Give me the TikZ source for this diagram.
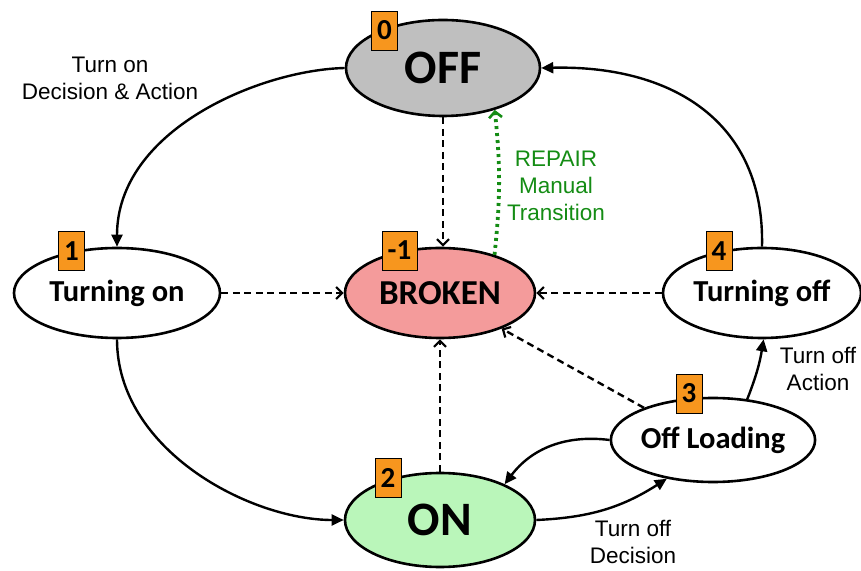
\documentclass[tikz,border=0pt]{standalone}
\usepackage{fontspec}
\setmainfont{Liberation Sans}
\newfontfamily\calib{Carlito}
\usetikzlibrary{shapes.geometric,arrows.meta}
\definecolor{offgray}{RGB}{191,191,191}
\definecolor{brokenpink}{RGB}{244,155,155}
\definecolor{ongreen}{RGB}{186,246,186}
\definecolor{badgeorange}{RGB}{247,150,30}
\definecolor{repairgreen}{RGB}{20,140,20}
\tikzset{
  state/.style={ellipse, draw=black, line width=2.6pt, inner sep=0pt, font=\calib\bfseries},
  badge/.style={rectangle, draw=black, line width=0.6pt, fill=badgeorange, inner sep=0pt,
    minimum width=26pt, minimum height=39pt, font=\calib\bfseries\fontsize{29}{29}\selectfont},
  lbl/.style={align=center, font=\fontsize{22.5}{27}\selectfont, inner sep=0pt},
  trans/.style={line width=2.4pt, -{Triangle[length=12pt,width=11pt]}},
  fail/.style={line width=2.4pt, dash pattern=on 7pt off 4.5pt, -{Straight Barb[length=6pt,width=12pt,line width=2.2pt]}},
  repair/.style={line width=3.8pt, repairgreen, dash pattern=on 3pt off 4pt, -{Straight Barb[length=6pt,width=13pt,line width=2.6pt]}}
}
\begin{document}
\begin{tikzpicture}[x=1pt,y=1pt]
\useasboundingbox (0,0) rectangle (861,570);
% states
\node[state, fill=offgray, minimum width=194pt, minimum height=96pt] (off) at (443,502) {\fontsize{48}{48}\selectfont OFF};
\node[state, fill=brokenpink, minimum width=190pt, minimum height=90pt] (broken) at (440,277) {\fontsize{35}{35}\selectfont BROKEN};
\node[state, fill=white, minimum width=206pt, minimum height=90pt] (ton) at (117,277) {\fontsize{30.5}{30}\selectfont Turning on};
\node[state, fill=white, minimum width=198pt, minimum height=90pt] (toff) at (762,277) {\fontsize{30.5}{30}\selectfont Turning off};
\node[state, fill=white, minimum width=194pt, minimum height=84pt] (ol) at (713,130) {\fontsize{30.5}{30}\selectfont Off Loading};
\node[state, fill=ongreen, minimum width=190pt, minimum height=94pt] (on) at (440,50) {\fontsize{48}{48}\selectfont ON};
% badges
\node[badge] (b0) at (384.5,539.5) {0};
\node[badge, minimum width=35pt] (bm1) at (399.5,319.5) {-1};
\node[badge] (b1) at (71.5,319) {1};
\node[badge] (b4) at (719,319) {4};
\node[badge] (b3) at (689,176.5) {3};
\node[badge] (b2) at (388,92) {2};
% labels
\node[lbl] (l1) at (110,491.5) {Turn on\\Decision \& Action};
\node[lbl, text=repairgreen] (lr) at (556,384.5) {REPAIR\\Manual\\Transition};
\node[lbl] (l4) at (818,201) {Turn off\\Action};
\node[lbl] (l3) at (633,28) {Turn off\\Decision};
% transitions
\draw[trans] (off.west) .. controls (260,500) and (117,440) .. (ton.north);
\draw[trans] (ton.south) .. controls (117,120) and (250,50) .. (on.west);
\draw[trans] (on.east) to[bend right=15] (ol.220);
\draw[trans] (ol.west) to[bend right=30] (on.29);
\draw[trans] (ol.50) to[bend right=6] (toff.-88);
\draw[trans] (toff.north) .. controls (765,450) and (670,505) .. (off.east);
% failure transitions
\draw[fail] (off.south) -- (off.south |- broken.north);
\draw[fail] (ton.east) -- (broken.west);
\draw[fail] (toff.west) -- (broken.east);
\draw[fail] (on.north) -- (on.north |- broken.south);
\draw[fail] (ol.155) -- (broken.-30);
% repair
\draw[repair] (broken.35) to[bend right=6] (off.-39);
\end{tikzpicture}
\end{document}
